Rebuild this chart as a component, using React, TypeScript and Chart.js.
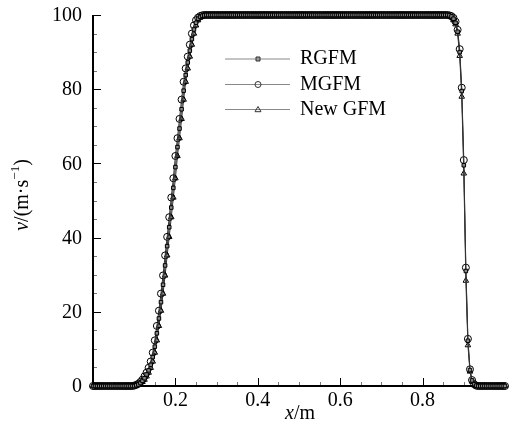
import React, { useEffect, useRef } from "react";
import { Chart, registerables } from "chart.js";
Chart.register(...registerables);

const FONT = '"Liberation Serif", "Times New Roman", serif';
Chart.defaults.font.family = FONT;
Chart.defaults.font.size = 20;
Chart.defaults.color = "#000";

const X_VALUES = [
  0, 0.005, 0.01, 0.015, 0.02, 0.025, 0.03, 0.035, 0.04, 0.045, 0.05, 0.055, 0.06, 0.065, 0.07, 0.075, 0.08, 0.085, 0.09, 0.095,
  0.1, 0.105, 0.11, 0.115, 0.12, 0.125, 0.13, 0.135, 0.14, 0.145, 0.15, 0.155, 0.16, 0.165, 0.17, 0.175, 0.18, 0.185, 0.19, 0.195,
  0.2, 0.205, 0.21, 0.215, 0.22, 0.225, 0.23, 0.235, 0.24, 0.245, 0.25, 0.255, 0.26, 0.265, 0.27, 0.275, 0.28, 0.285, 0.29, 0.295,
  0.3, 0.305, 0.31, 0.315, 0.32, 0.325, 0.33, 0.335, 0.34, 0.345, 0.35, 0.355, 0.36, 0.365, 0.37, 0.375, 0.38, 0.385, 0.39, 0.395,
  0.4, 0.405, 0.41, 0.415, 0.42, 0.425, 0.43, 0.435, 0.44, 0.445, 0.45, 0.455, 0.46, 0.465, 0.47, 0.475, 0.48, 0.485, 0.49, 0.495,
  0.5, 0.505, 0.51, 0.515, 0.52, 0.525, 0.53, 0.535, 0.54, 0.545, 0.55, 0.555, 0.56, 0.565, 0.57, 0.575, 0.58, 0.585, 0.59, 0.595,
  0.6, 0.605, 0.61, 0.615, 0.62, 0.625, 0.63, 0.635, 0.64, 0.645, 0.65, 0.655, 0.66, 0.665, 0.67, 0.675, 0.68, 0.685, 0.69, 0.695,
  0.7, 0.705, 0.71, 0.715, 0.72, 0.725, 0.73, 0.735, 0.74, 0.745, 0.75, 0.755, 0.76, 0.765, 0.77, 0.775, 0.78, 0.785, 0.79, 0.795,
  0.8, 0.805, 0.81, 0.815, 0.82, 0.825, 0.83, 0.835, 0.84, 0.845, 0.85, 0.855, 0.86, 0.865, 0.87, 0.875, 0.88, 0.885, 0.89, 0.895,
  0.9, 0.905, 0.91, 0.915, 0.92, 0.925, 0.93, 0.935, 0.94, 0.945, 0.95, 0.955, 0.96, 0.965, 0.97, 0.975, 0.98, 0.985, 0.99, 0.995,
  1,
];

const RGFM = [
  0, 0, 0, 0, 0, 0, 0, 0, 0, 0, 0, 0, 0, 0, 0, 0, 0, 0, 0, 0,
  0, 0.2, 0.4, 0.8, 1.4, 2.1, 3.1, 4.2, 5.7, 7.8, 10.6, 14.2, 18.2, 22.6, 27.3, 32.5, 37.7, 42.8, 48.1, 53.4,
  59.0, 64.4, 69.4, 74.6, 79.6, 83.8, 87.2, 90.4, 93.5, 96.1, 97.9, 99.0, 99.5, 99.8, 99.9, 100, 100, 100, 100, 100,
  100, 100, 100, 100, 100, 100, 100, 100, 100, 100, 100, 100, 100, 100, 100, 100, 100, 100, 100, 100,
  100, 100, 100, 100, 100, 100, 100, 100, 100, 100, 100, 100, 100, 100, 100, 100, 100, 100, 100, 100,
  100, 100, 100, 100, 100, 100, 100, 100, 100, 100, 100, 100, 100, 100, 100, 100, 100, 100, 100, 100,
  100, 100, 100, 100, 100, 100, 100, 100, 100, 100, 100, 100, 100, 100, 100, 100, 100, 100, 100, 100,
  100, 100, 100, 100, 100, 100, 100, 100, 100, 100, 100, 100, 100, 100, 100, 100, 100, 100, 100, 100,
  100, 100, 100, 100, 100, 100, 100, 100, 100, 100, 100, 100, 100, 99.9, 99.6, 99.0, 97.9, 95.5, 90.0, 79.5,
  59.5, 31.0, 12.2, 4.3, 1.5, 0.5, 0.1, 0, 0, 0, 0, 0, 0, 0, 0, 0, 0, 0, 0, 0,
  0,
];

const MGFM = [
  0, 0, 0, 0, 0, 0, 0, 0, 0, 0, 0, 0, 0, 0, 0, 0, 0, 0, 0, 0,
  0.1, 0.3, 0.6, 1.1, 1.7, 2.6, 3.6, 4.9, 6.6, 9.0, 12.3, 16.2, 20.3, 24.9, 29.8, 35.2, 40.2, 45.5, 50.8, 56.0,
  62.0, 66.8, 72.0, 77.2, 82.0, 85.6, 88.8, 92.0, 95.0, 97.2, 98.6, 99.3, 99.7, 99.9, 100, 100, 100, 100, 100, 100,
  100, 100, 100, 100, 100, 100, 100, 100, 100, 100, 100, 100, 100, 100, 100, 100, 100, 100, 100, 100,
  100, 100, 100, 100, 100, 100, 100, 100, 100, 100, 100, 100, 100, 100, 100, 100, 100, 100, 100, 100,
  100, 100, 100, 100, 100, 100, 100, 100, 100, 100, 100, 100, 100, 100, 100, 100, 100, 100, 100, 100,
  100, 100, 100, 100, 100, 100, 100, 100, 100, 100, 100, 100, 100, 100, 100, 100, 100, 100, 100, 100,
  100, 100, 100, 100, 100, 100, 100, 100, 100, 100, 100, 100, 100, 100, 100, 100, 100, 100, 100, 100,
  100, 100, 100, 100, 100, 100, 100, 100, 100, 100, 100, 100, 100, 99.9, 99.7, 99.2, 98.2, 96.0, 90.8, 80.4,
  60.9, 31.9, 12.7, 4.5, 1.6, 0.5, 0.1, 0, 0, 0, 0, 0, 0, 0, 0, 0, 0, 0, 0, 0,
  0,
];

const NEW_GFM = [
  0, 0, 0, 0, 0, 0, 0, 0, 0, 0, 0, 0, 0, 0, 0, 0, 0, 0, 0, 0,
  0, 0.1, 0.3, 0.6, 1.1, 1.7, 2.6, 3.6, 4.9, 6.6, 9.0, 12.3, 16.2, 20.3, 24.9, 29.8, 35.2, 40.2, 45.5, 50.8,
  56.0, 62.0, 66.8, 72.0, 77.2, 82.0, 85.6, 88.8, 92.0, 95.0, 97.2, 98.6, 99.3, 99.7, 99.9, 100, 100, 100, 100, 100,
  100, 100, 100, 100, 100, 100, 100, 100, 100, 100, 100, 100, 100, 100, 100, 100, 100, 100, 100, 100,
  100, 100, 100, 100, 100, 100, 100, 100, 100, 100, 100, 100, 100, 100, 100, 100, 100, 100, 100, 100,
  100, 100, 100, 100, 100, 100, 100, 100, 100, 100, 100, 100, 100, 100, 100, 100, 100, 100, 100, 100,
  100, 100, 100, 100, 100, 100, 100, 100, 100, 100, 100, 100, 100, 100, 100, 100, 100, 100, 100, 100,
  100, 100, 100, 100, 100, 100, 100, 100, 100, 100, 100, 100, 100, 100, 100, 100, 100, 100, 100, 100,
  100, 100, 100, 100, 100, 100, 100, 100, 100, 100, 100, 100, 100, 99.8, 99.4, 98.6, 97.5, 95.0, 89.0, 78.0,
  57.3, 28.4, 11.0, 3.9, 1.2, 0.3, 0, 0, 0, 0, 0, 0, 0, 0, 0, 0, 0, 0, 0, 0,
  0,
];

const X_TICK_LABELS = [0.2, 0.4, 0.6, 0.8];
const Y_TICK_LABELS = [0, 20, 40, 60, 80, 100];
const X_MINOR_STEP = 0.05;
const Y_MAJOR_STEP = 20;
const Y_MINOR_STEP = 5;
const SERIES_NAMES = ["RGFM", "MGFM", "New GFM"];
const SERIES_STYLES = ["rect", "circle", "triangle"];

function drawMarker(ctx: CanvasRenderingContext2D, style: string, x: number, y: number) {
  ctx.save();
  ctx.lineWidth = 1;
  ctx.strokeStyle = "#333";
  ctx.beginPath();
  if (style === "rect") {
    ctx.fillStyle = "#999";
    ctx.rect(x - 2, y - 2, 4, 4);
    ctx.fill();
    ctx.stroke();
  } else if (style === "circle") {
    ctx.arc(x, y, 3, 0, Math.PI * 2);
    ctx.stroke();
  } else {
    ctx.moveTo(x, y - 3);
    ctx.lineTo(x + 3, y + 2.2);
    ctx.lineTo(x - 3, y + 2.2);
    ctx.closePath();
    ctx.stroke();
  }
  ctx.restore();
}

const axesPlugin = {
  id: "customAxes",
  beforeDatasetsDraw(chart: any) {
    const { ctx, chartArea, scales } = chart;
    const xs = scales.x;
    const ys = scales.y;
    ctx.save();
    ctx.lineWidth = 1;
    for (let v = Y_MINOR_STEP; v < 100 + 1e-6; v += Y_MINOR_STEP) {
      const py = Math.round(ys.getPixelForValue(v)) + 0.5;
      const major = Math.abs(v / Y_MAJOR_STEP - Math.round(v / Y_MAJOR_STEP)) < 1e-6;
      ctx.strokeStyle = major ? "#000" : "#777";
      ctx.beginPath();
      ctx.moveTo(chartArea.left, py);
      ctx.lineTo(chartArea.left + (major ? 8 : 4), py);
      ctx.stroke();
    }
    for (let v = X_MINOR_STEP; v < 1 - 1e-6; v += X_MINOR_STEP) {
      const px = Math.round(xs.getPixelForValue(v)) + 0.5;
      const major = X_TICK_LABELS.some((t) => Math.abs(t - v) < 1e-6);
      ctx.strokeStyle = major ? "#000" : "#777";
      ctx.beginPath();
      ctx.moveTo(px, chartArea.bottom);
      ctx.lineTo(px, chartArea.bottom - (major ? 8 : 4));
      ctx.stroke();
    }
    ctx.strokeStyle = "#000";
    ctx.lineWidth = 2;
    ctx.beginPath();
    ctx.moveTo(chartArea.left, chartArea.top);
    ctx.lineTo(chartArea.left, chartArea.bottom);
    ctx.lineTo(chartArea.right, chartArea.bottom);
    ctx.stroke();
    // tick labels
    ctx.fillStyle = "#000";
    ctx.font = `20px ${FONT}`;
    ctx.textBaseline = "middle";
    ctx.textAlign = "right";
    Y_TICK_LABELS.forEach((v) => {
      ctx.fillText(String(v), chartArea.left - 11, ys.getPixelForValue(v) + 1);
    });
    ctx.textAlign = "center";
    X_TICK_LABELS.forEach((v) => {
      ctx.fillText(v.toFixed(1), xs.getPixelForValue(v), chartArea.bottom + 15);
    });
    ctx.restore();
  },
  afterDraw(chart: any) {
    const { ctx } = chart;
    ctx.save();
    const legendY = [59, 84.5, 109.5];
    SERIES_NAMES.forEach((name, i) => {
      const y = legendY[i];
      ctx.strokeStyle = "#888";
      ctx.lineWidth = 1;
      ctx.beginPath();
      ctx.moveTo(225, y);
      ctx.lineTo(290, y);
      ctx.stroke();
      drawMarker(ctx, SERIES_STYLES[i], 258, y);
      ctx.fillStyle = "#000";
      ctx.font = `20px ${FONT}`;
      ctx.textAlign = "left";
      ctx.textBaseline = "middle";
      ctx.fillText(name, 300, y);
    });
    ctx.textBaseline = "middle";
    ctx.font = `italic 20px ${FONT}`;
    const wx = ctx.measureText("x").width;
    ctx.font = `20px ${FONT}`;
    const wm = ctx.measureText("/m").width;
    const sx = 300 - (wx + wm) / 2;
    ctx.font = `italic 20px ${FONT}`;
    ctx.textAlign = "left";
    ctx.fillText("x", sx, 414);
    ctx.font = `20px ${FONT}`;
    ctx.fillText("/m", sx + wx, 414);
    ctx.translate(23, 195);
    ctx.rotate(-Math.PI / 2);
    const parts = [
      { t: "v", f: `italic 20px ${FONT}`, dy: 0 },
      { t: "/(m·s", f: `20px ${FONT}`, dy: 0 },
      { t: "−1", f: `13px ${FONT}`, dy: -7 },
      { t: ")", f: `20px ${FONT}`, dy: 0 },
    ];
    let total = 0;
    parts.forEach((p) => {
      ctx.font = p.f;
      total += ctx.measureText(p.t).width;
    });
    let cx = -total / 2;
    parts.forEach((p) => {
      ctx.font = p.f;
      ctx.fillText(p.t, cx, p.dy);
      cx += ctx.measureText(p.t).width;
    });
    ctx.restore();
  },
};

export default function App() {
  const ref = useRef<HTMLCanvasElement>(null);
  useEffect(() => {
    const seriesList = [RGFM, MGFM, NEW_GFM];
    const fills = ["#888", "rgba(255,255,255,0)", "rgba(255,255,255,0)"];
    const radii = [2.5, 3.5, 3.2];
    const chart = new Chart(ref.current as HTMLCanvasElement, {
      type: "line",
      data: {
        datasets: seriesList.map((vals, i) => ({
          label: SERIES_NAMES[i],
          data: X_VALUES.map((x, k) => ({ x, y: vals[k] })),
          borderColor: "#333",
          borderWidth: 1,
          pointStyle: SERIES_STYLES[i] as any,
          pointRadius: radii[i],
          pointBorderColor: "#000",
          pointBorderWidth: 1,
          pointBackgroundColor: fills[i],
          tension: 0,
          clip: false as any,
        })),
      },
      options: {
        animation: false,
        responsive: false,
        devicePixelRatio: 1,
        layout: { padding: { top: 15, right: 11, left: 0, bottom: 0 } },
        plugins: { legend: { display: false }, tooltip: { enabled: false } },
        scales: {
          x: {
            type: "linear",
            min: 0,
            max: 1,
            afterFit: (s: any) => {
              s.height = 52;
              s.paddingLeft = 0;
              s.paddingRight = 0;
            },
            grid: { display: false, drawTicks: false },
            border: { display: false },
            ticks: { display: false, stepSize: 0.2 },
          },
          y: {
            type: "linear",
            min: 0,
            max: 100,
            afterFit: (s: any) => {
              s.width = 93;
              s.paddingTop = 0;
              s.paddingBottom = 0;
            },
            grid: { display: false, drawTicks: false },
            border: { display: false },
            ticks: { display: false, stepSize: Y_MAJOR_STEP },
          },
        },
      },
      plugins: [axesPlugin],
    });
    return () => chart.destroy();
  }, []);
  return (
    <div style={{ position: "fixed", left: 0, top: 0, width: 516, height: 438, background: "#fff" }}>
      <canvas ref={ref} width={516} height={438} style={{ display: "block", width: 516, height: 438 }} />
    </div>
  );
}
